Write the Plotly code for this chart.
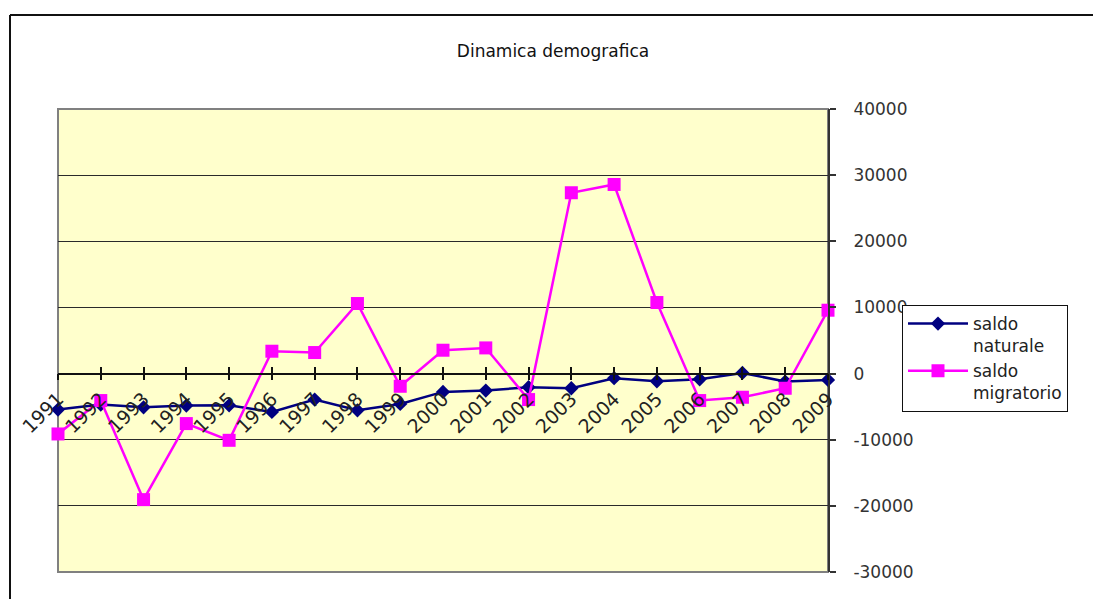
import plotly.graph_objects as go

# Annual population balance
anni = list(range(1991, 2010))
saldo_naturale = [-5450, -4690, -5100, -4840, -4800, -5800, -3930, -5550, -4590, -2770,
                  -2570, -2070, -2220, -700, -1160, -860, 100, -1210, -960]
saldo_migratorio = [-9130, -4080, -19060, -7560, -10090, 3380, 3180, 10590, -1920, 3530,
                    3880, -3930, 27340, 28590, 10740, -4080, -3580, -2220, 9580]

y_ticks = [-30000, -20000, -10000, 0, 10000, 20000, 30000, 40000]
y_tick_labels = ["-30000", "-20000", "-10000", "0", "10000", "20000", "30000", "40000"]
x_tick_labels = [str(a) for a in anni]

Y_MIN, Y_MAX = -30000, 40000
zero_pos = (0 - Y_MIN) / (Y_MAX - Y_MIN)

FONT = "DejaVu Sans"
W, H = 1093, 599
ML, MR, MT, MB = 58, 265, 109, 27
PW, PH = W - ML - MR, H - MT - MB

fig = go.Figure()

fig.add_trace(go.Scatter(
    x=anni, y=saldo_naturale, name="saldo<br>naturale",
    mode="lines+markers", xaxis="x", yaxis="y",
    line=dict(color="#000080", width=2.5),
    marker=dict(symbol="diamond", size=11, color="#000080"),
    cliponaxis=False,
))
fig.add_trace(go.Scatter(
    x=anni, y=saldo_migratorio, name="saldo<br>migratorio",
    mode="lines+markers", xaxis="x2", yaxis="y",
    line=dict(color="#FF00FF", width=2.5),
    marker=dict(symbol="square", size=13, color="#FF00FF"),
    cliponaxis=False,
))

axis_common = dict(
    range=[anni[0], anni[-1]], tickvals=anni,
    anchor="free", position=zero_pos,
    showgrid=False, zeroline=False, fixedrange=True,
    showline=True, linecolor="#111111", linewidth=1.5,
    tickcolor="#111111", tickwidth=1.5, ticklen=6,
)

fig.update_layout(
    width=W, height=H,
    margin=dict(l=ML, r=MR, t=MT, b=MB),
    paper_bgcolor="white",
    plot_bgcolor="#FFFFCC",
    font=dict(family=FONT, size=17, color="#222222"),
    title=dict(text="Dinamica demografica", x=553 / W, xref="container",
               xanchor="center", y=1 - 51 / H, yref="container", yanchor="middle",
               font=dict(family=FONT, size=17, color="#111111")),
    xaxis=dict(**axis_common, ticks="outside", ticktext=x_tick_labels,
               tickangle=-45, tickfont=dict(size=19, color="#222222")),
    xaxis2=dict(**axis_common, overlaying="x", ticks="inside", showticklabels=False),
    yaxis=dict(range=[Y_MIN, Y_MAX], tickvals=y_ticks, ticktext=y_tick_labels,
               side="right", ticks="outside", ticklen=6, tickwidth=1.5,
               tickcolor="#333333", showline=True, linecolor="#333333", linewidth=2,
               showgrid=True, gridcolor="#2a2a2a", gridwidth=1.4, zeroline=False,
               ticklabelstandoff=14, fixedrange=True,
               tickfont=dict(size=17, color="#333333")),
    showlegend=True,
    legend=dict(x=(902 - ML) / PW, y=(H - MB - 305) / PH, xanchor="left", yanchor="top",
                bgcolor="white", bordercolor="#111111", borderwidth=1,
                valign="top", tracegroupgap=0, itemwidth=60,
                font=dict(family=FONT, size=17, color="#222222")),
    shapes=[
        # grey frame of the plotting area
        dict(type="rect", xref="paper", yref="paper", x0=0, x1=1, y0=0, y1=1,
             line=dict(color="#808080", width=2), layer="below"),
        # outer chart frame (top and left edges)
        dict(type="line", xref="paper", yref="paper",
             x0=(10 - ML) / PW, x1=(W + 10 - ML) / PW,
             y0=(H - MB - 15) / PH, y1=(H - MB - 15) / PH,
             line=dict(color="#111111", width=2)),
        dict(type="line", xref="paper", yref="paper",
             x0=(10 - ML) / PW, x1=(10 - ML) / PW,
             y0=-0.2, y1=(H - MB - 15) / PH,
             line=dict(color="#111111", width=2)),
    ],
)

fig.write_html("out.html")
